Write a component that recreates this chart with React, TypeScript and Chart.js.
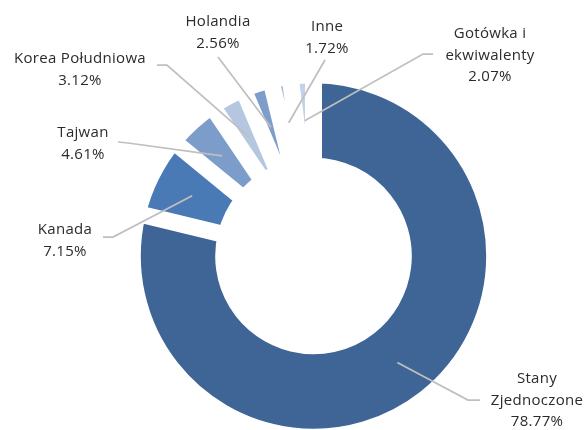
import React, { useEffect, useRef } from "react";
import { Chart, registerables } from "chart.js";

Chart.register(...registerables);

const categories = [
  "Stany\nZjednoczone",
  "Kanada",
  "Tajwan",
  "Korea Południowa",
  "Holandia",
  "Inne",
  "Gotówka i\nekwiwalenty",
];
const shares = [78.77, 7.15, 4.61, 3.12, 2.56, 1.72, 2.07];
const colors = ["#3E6595", "#4A7AB5", "#7C9CC9", "#B4C6E0", "#7E9DCB", "#9DB4DA", "#C3D2E9"];

// label layout: text centre x, first baseline y, elbow points (from anchor side outward)
const labelLayout = [
  { x: 537, y: 383, pts: [[468, 400], [480, 400]] },
  { x: 65, y: 234, pts: [[113, 237], [103, 237]] },
  { x: 83, y: 137, pts: [[128, 143], [118, 142]] },
  { x: 80, y: 63, pts: [[167, 65], [157, 65]] },
  { x: 218, y: 26, pts: [[218, 57]] },
  { x: 327, y: 31, pts: [[325, 60]] },
  { x: 490, y: 38, pts: [[423, 54], [433, 54]] },
];

const labelPlugin = {
  id: "leaderLabels",
  afterDatasetsDraw(chart: any) {
    const ctx = chart.ctx as CanvasRenderingContext2D;
    const meta = chart.getDatasetMeta(0);
    ctx.save();
    // clean antialiasing residue on rims and slice boundaries
    const first = meta.data[0];
    if (first) {
      ctx.strokeStyle = "#ffffff";
      ctx.lineWidth = 5;
      ctx.beginPath();
      ctx.arc(first.x, first.y, first.outerRadius, 0, Math.PI * 2);
      ctx.stroke();
      ctx.beginPath();
      ctx.arc(first.x, first.y, first.innerRadius, 0, Math.PI * 2);
      ctx.stroke();
      ctx.lineWidth = 4;
      meta.data.forEach((arc: any) => {
        const ang = arc.startAngle;
        ctx.beginPath();
        ctx.moveTo(arc.x + Math.cos(ang) * (arc.innerRadius - 3), arc.y + Math.sin(ang) * (arc.innerRadius - 3));
        ctx.lineTo(arc.x + Math.cos(ang) * (arc.outerRadius + 3), arc.y + Math.sin(ang) * (arc.outerRadius + 3));
        ctx.stroke();
      });
    }
    meta.data.forEach((arc: any, i: number) => {
      const lay = labelLayout[i];
      const a = arc.getCenterPoint();
      ctx.beginPath();
      ctx.strokeStyle = "#BFBFBF";
      ctx.lineWidth = 1.75;
      ctx.moveTo(a.x, a.y);
      lay.pts.forEach((p) => ctx.lineTo(p[0], p[1]));
      ctx.stroke();
      const lines = categories[i].split("\n").concat([shares[i].toFixed(2) + "%"]);
      ctx.fillStyle = "#2b2b2b";
      ctx.font = "15px 'Open Sans'";
      (ctx as any).letterSpacing = "0.3px";
      ctx.textAlign = "center";
      ctx.textBaseline = "alphabetic";
      lines.forEach((t, k) => ctx.fillText(t, lay.x, lay.y + k * 21.5));
    });
    ctx.restore();
  },
};

export default function App() {
  const ref = useRef<HTMLCanvasElement>(null);
  useEffect(() => {
    if (!ref.current) return;
    const chart = new Chart(ref.current, {
      type: "doughnut",
      data: {
        labels: categories,
        datasets: [
          {
            data: shares,
            backgroundColor: colors,
            borderColor: "#ffffff",
            borderWidth: 8.5,
            borderAlign: "inner",
            radius: 181.5,
            cutout: "49.3%",
          } as any,
        ],
      },
      options: {
        animation: false,
        responsive: false,
        events: [],
        radius: 181.5,
        cutout: "49.3%",
        layout: { padding: { left: 40, top: 82, right: 0, bottom: 0 } },
        plugins: { legend: { display: false }, tooltip: { enabled: false } },
      } as any,
      plugins: [labelPlugin],
    });
    return () => chart.destroy();
  }, []);
  return (
    <div style={{ position: "fixed", left: 0, top: 0, width: 587, height: 430, background: "#fff" }}>
      <canvas ref={ref} width={587} height={430} style={{ width: 587, height: 430 }} />
    </div>
  );
}
